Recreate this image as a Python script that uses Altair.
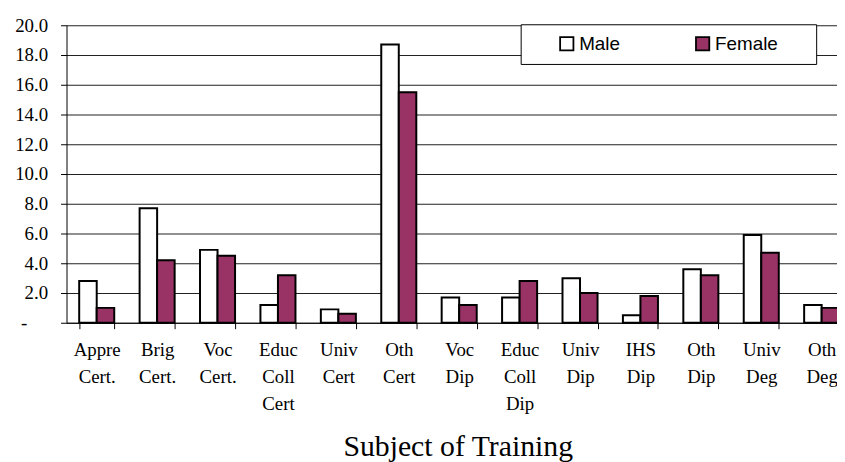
import altair as alt
import pandas as pd

categories = ["Appre Cert.", "Brig Cert.", "Voc Cert.", "Educ Coll Cert", "Univ Cert",
              "Oth Cert", "Voc Dip", "Educ Coll Dip", "Univ Dip", "IHS Dip",
              "Oth Dip", "Univ Deg", "Oth Deg"]
male = [2.8, 7.7, 4.9, 1.2, 0.9, 18.7, 1.7, 1.7, 3.0, 0.5, 3.6, 5.9, 1.2]
female = [1.0, 4.2, 4.5, 3.2, 0.6, 15.5, 1.2, 2.8, 2.0, 1.8, 3.2, 4.7, 1.0]
series = ["Male", "Female"]
colors = ["#ffffff", "#993366"]
y_ticks = [0, 2, 4, 6, 8, 10, 12, 14, 16, 18, 20]

rows = []
for c, m, f in zip(categories, male, female):
    rows.append({"category": c, "series": "Male", "value": m})
    rows.append({"category": c, "series": "Female", "value": f})
df = pd.DataFrame(rows)

serif = "Liberation Serif"
sans = "Liberation Sans"
blank = "\u2800"

chart = alt.Chart(df).mark_bar(stroke="black", strokeWidth=2).encode(
    x=alt.X("category:N", sort=categories,
            scale=alt.Scale(paddingInner=0.42, paddingOuter=0.21),
            axis=alt.Axis(title="Subject of Training", labelAngle=0,
                          labelExpr="split(datum.label, ' ')",
                          labelFont=serif, labelFontSize=19, labelColor="black",
                          labelLineHeight=27, labelPadding=12, labelOverlap=False,
                          labelFlush=False, labelLimit=0,
                          tickBand="extent", tickSize=6, tickColor="black",
                          domainColor="black", domainWidth=1,
                          titleFont=serif, titleFontSize=30, titleFontWeight="normal",
                          titleColor="black", titlePadding=19, titleX=394.5,
                          titleAlign="center", grid=False)),
    xOffset=alt.XOffset("series:N", sort=series,
                        scale=alt.Scale(domain=series, paddingInner=0, paddingOuter=0)),
    y=alt.Y("value:Q", scale=alt.Scale(domain=[0, 20], nice=False),
            axis=alt.Axis(title=None, values=y_ticks,
                          labelExpr="datum.value == 0 ? '-' : format(datum.value, '.1f')",
                          labelFont=serif, labelFontSize=19, labelColor="black",
                          labelPadding={"condition": {"test": "datum.value == 0", "value": 34},
                                        "value": 13},
                          tickSize=6, tickColor="black",
                          domainColor="black", grid=True, gridColor="#222222",
                          gridWidth=1.2)),
    color=alt.Color("series:N", sort=series,
                    scale=alt.Scale(domain=series, range=colors),
                    legend=alt.Legend(title=None, orient="none", legendX=458, legendY=-1,
                                      direction="horizontal", columns=2,
                                      columnPadding=46, padding=10,
                                      fillColor="white", strokeColor="black",
                                      symbolType="square", symbolSize=180,
                                      symbolStrokeColor="black", symbolStrokeWidth=1.8,
                                      symbolOffset=27,
                                      labelFont=sans, labelFontSize=19, labelColor="black",
                                      labelOffset=3,
                                      labelExpr="datum.label == 'Female' ? 'Female" + blank * 2 + "' : datum.label")),
).properties(
    width=792, height=300,
    autosize=alt.AutoSizeParams(type="none"),
    padding={"left": 59, "top": 15.5, "right": -15, "bottom": 138},
).configure(font=serif).configure_view(stroke=None)

chart.save("out.html", embed_options={"renderer": "svg", "actions": False})
